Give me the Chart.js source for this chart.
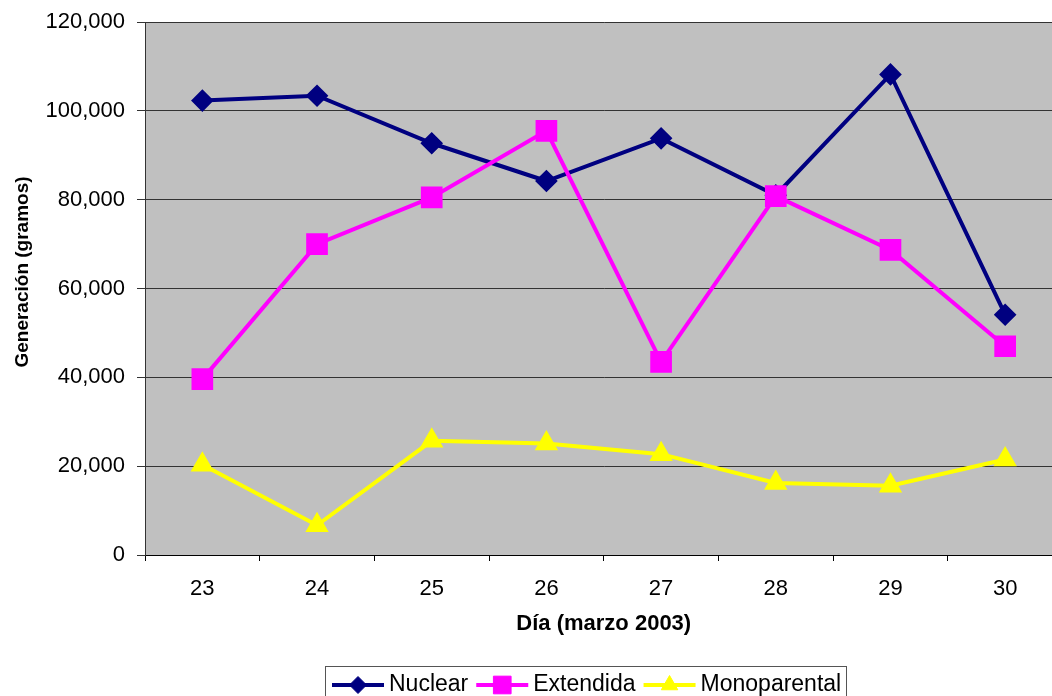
<!DOCTYPE html>
<html>
<head>
    <meta charset="utf-8">
    <title>Generación por día</title>
    <script src="https://cdn.jsdelivr.net/npm/chart.js"></script>
    <style>
        html, body { margin: 0; padding: 0; background: #fff; overflow: hidden; }
        #wrap { width: 1052px; height: 696px; overflow: hidden; }
    </style>
</head>
<body>
    <div id="wrap">
        <canvas id="chart-dias" width="1079" height="696"></canvas>
    </div>

    <script>
        // Datos
        const dias = ["23", "24", "25", "26", "27", "28", "29", "30"];
        const nuclear = [102300, 103400, 92700, 84200, 93800, 81000, 108200, 54100];
        const extendida = [39600, 70000, 80500, 95500, 43500, 80800, 68700, 47000];
        const monoparental = [20300, 6700, 25700, 25100, 22700, 16200, 15600, 21500];
        const yTicks = [0, 20000, 40000, 60000, 80000, 100000, 120000];

        const FONT = "'Liberation Sans', Arial, sans-serif";

        // fondo gris del área de trazado
        const fondoPlot = {
            id: "fondoPlot",
            beforeDraw(chart) {
                const { ctx, chartArea: a } = chart;
                ctx.save();
                ctx.fillStyle = "#C0C0C0";
                ctx.fillRect(a.left, a.top, a.right - a.left, a.bottom - a.top);
                ctx.restore();
            }
        };

        // título del eje Y y leyenda con línea + marcador (estilo Excel)
        const extras = {
            id: "extras",
            afterDraw(chart) {
                const ctx = chart.ctx;
                ctx.save();
                ctx.fillStyle = "#000";
                ctx.font = "bold 19px " + FONT;
                ctx.textAlign = "center";
                ctx.textBaseline = "middle";
                ctx.translate(23, 272);
                ctx.rotate(-Math.PI / 2);
                ctx.fillText("Generación (gramos)", 0, 0);
                ctx.restore();

                ctx.save();
                ctx.strokeStyle = "#555";
                ctx.lineWidth = 1;
                ctx.strokeRect(325.5, 666.5, 521, 40);
                ctx.font = "23px " + FONT;
                ctx.textBaseline = "middle";
                let x = 332;
                const y = 685;
                chart.data.datasets.forEach(ds => {
                    ctx.strokeStyle = ds.borderColor;
                    ctx.lineWidth = ds.borderWidth;
                    ctx.beginPath();
                    ctx.moveTo(x, y);
                    ctx.lineTo(x + 52, y);
                    ctx.stroke();
                    ctx.fillStyle = ds.pointBackgroundColor;
                    ctx.strokeStyle = ds.pointBorderColor;
                    ctx.lineWidth = 1;
                    Chart.helpers.drawPoint(ctx, { pointStyle: ds.pointStyle, radius: ds.pointRadius, borderWidth: 1 }, x + 26, y);
                    ctx.fillStyle = "#000";
                    ctx.fillText(ds.label, x + 57, y);
                    x += 57 + ctx.measureText(ds.label).width + 8;
                });
                ctx.restore();
            }
        };

        const ctx = document.getElementById("chart-dias").getContext("2d");
        new Chart(ctx, {
            type: "line",
            data: {
                labels: dias,
                datasets: [
                    {
                        label: "Nuclear",
                        data: nuclear,
                        borderColor: "#000080",
                        backgroundColor: "#000080",
                        pointBackgroundColor: "#000080",
                        pointBorderColor: "#000080",
                        borderWidth: 4,
                        pointStyle: "rectRot",
                        pointRadius: 8.5,
                        order: 3
                    },
                    {
                        label: "Extendida",
                        data: extendida,
                        borderColor: "#FF00FF",
                        backgroundColor: "#FF00FF",
                        pointBackgroundColor: "#FF00FF",
                        pointBorderColor: "#FF00FF",
                        borderWidth: 4,
                        pointStyle: "rect",
                        pointRadius: 12.5,
                        order: 2
                    },
                    {
                        label: "Monoparental",
                        data: monoparental,
                        borderColor: "#FFFF00",
                        backgroundColor: "#FFFF00",
                        pointBackgroundColor: "#FFFF00",
                        pointBorderColor: "#FFFF00",
                        borderWidth: 4,
                        pointStyle: "triangle",
                        pointRadius: 9.5,
                        order: 1
                    }
                ]
            },
            options: {
                responsive: false,
                animation: false,
                locale: "en-US",
                layout: { padding: { top: 22, left: 0, right: 0, bottom: 0 } },
                elements: {
                    line: { tension: 0, fill: false },
                    point: { borderWidth: 1, hoverRadius: 8 }
                },
                plugins: {
                    legend: { display: false },
                    tooltip: { enabled: false }
                },
                scales: {
                    x: {
                        offset: true,
                        grid: {
                            offset: true,
                            drawOnChartArea: false,
                            drawTicks: true,
                            tickLength: 6,
                            color: "#000"
                        },
                        border: { color: "#000", width: 1 },
                        ticks: {
                            color: "#000",
                            padding: 15,
                            font: { family: FONT, size: 22 }
                        },
                        title: {
                            display: true,
                            text: "Día (marzo 2003)",
                            color: "#000",
                            font: { family: FONT, size: 22, weight: "bold" },
                            padding: { top: 0, bottom: 59 }
                        },
                        afterFit(scale) {
                            scale.height = 141;
                            scale.paddingLeft = 0;
                            scale.paddingRight = 0;
                        }
                    },
                    y: {
                        min: 0,
                        max: 120000,
                        afterBuildTicks(scale) { scale.ticks = yTicks.map(v => ({ value: v })); },
                        grid: {
                            color: "#333",
                            lineWidth: 1,
                            drawTicks: true,
                            tickLength: 8
                        },
                        border: { color: "#333", width: 1 },
                        ticks: {
                            color: "#000",
                            padding: 12,
                            font: { family: FONT, size: 22 },
                            callback: v => v.toLocaleString("en-US")
                        },
                        afterFit(scale) {
                            scale.width = 145;
                            scale.paddingTop = 0;
                            scale.paddingBottom = 0;
                        }
                    }
                }
            },
            plugins: [fondoPlot, extras]
        });
    </script>
</body>
</html>
